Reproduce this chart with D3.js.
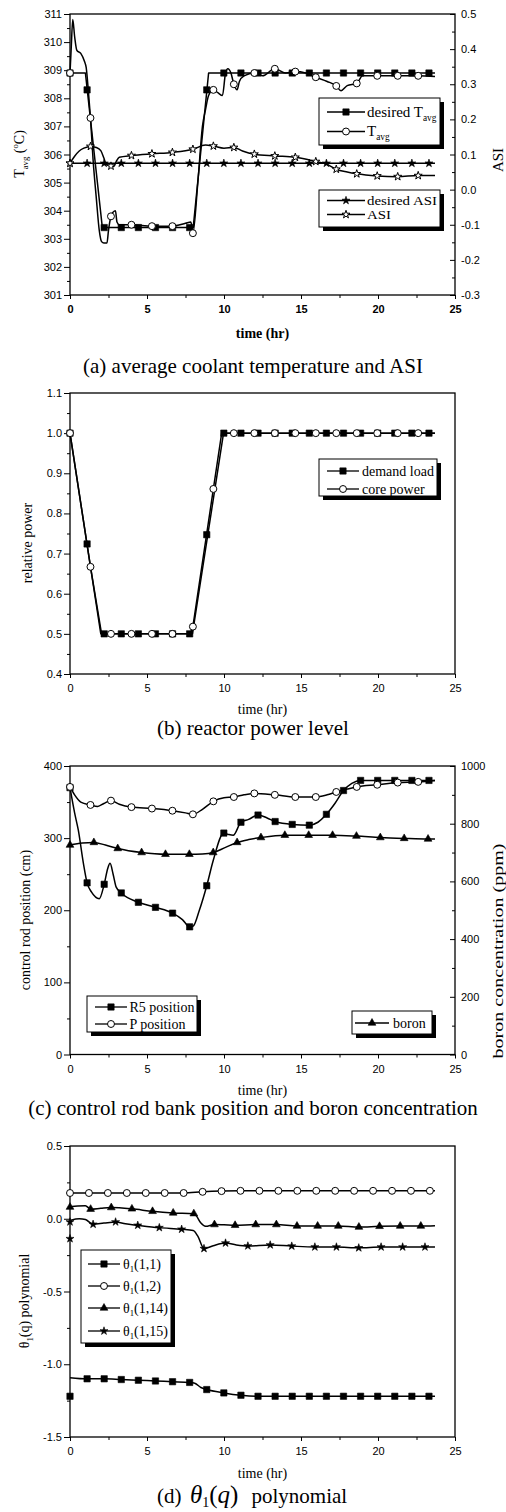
<!DOCTYPE html>
<html><head><meta charset="utf-8">
<script src="https://cdn.jsdelivr.net/npm/d3@7"></script>
<style>body{margin:0;background:#fff}svg{display:block}</style>
</head><body>
<svg id="c" width="506" height="1512"></svg>
<script>
// ---------------- DATA ----------------
const xTickValues = [0,5,10,15,20,25];
const xMinorValues = [2.5,7.5,12.5,17.5,22.5];

// marker time grids
const tSquare = [0,1.11,2.22,3.33,4.44,5.55,6.66,7.77,8.88,9.99,11.1,12.21,13.32,14.43,15.54,16.65,17.76,18.87,19.98,21.09,22.2,23.31];
const tCircle = [0,1.33,2.66,3.99,5.32,6.65,7.98,9.31,10.64,11.97,13.3,14.63,15.96,17.29,18.62,19.95,21.28,22.61];
const tTriangle = [0,1.55,3.1,4.65,6.2,7.75,9.3,10.85,12.4,13.95,15.5,17.05,18.6,20.15,21.7,23.25];
const tCircleD = [0,1.23,2.46,3.69,4.92,6.15,7.38,8.61,9.84,11.07,12.3,13.53,14.76,15.99,17.22,18.45,19.68,20.91,22.14,23.37];
const tTriangleD = [0,1.34,2.68,4.02,5.36,6.7,8.04,9.38,10.72,12.06,13.4,14.74,16.08,17.42,18.76,20.1,21.44,22.78];
const tStarD = [0,1.5,2.96,4.4,5.8,7.25,8.7,10.1,11.55,13.0,14.4,15.9,17.3,18.75,20.2,21.6,23.05];

// (a) average coolant temperature and ASI
const tempTicks = [301,302,303,304,305,306,307,308,309,310,311];
const asiTicks = [-0.3,-0.2,-0.1,0,0.1,0.2,0.3,0.4,0.5];
const desiredTavgLine = [[0,308.9],[1.0,308.9],[2.1,303.4],[8.0,303.4],[9.0,308.9],[23.7,308.9]];
const desiredTavgMarks = [308.9,308.3,303.4,303.4,303.4,303.4,303.4,303.4,308.3,308.9,308.9,308.9,308.9,308.9,308.9,308.9,308.9,308.9,308.9,308.9,308.9,308.9];
const tavgLine = [[0,308.9],[0.08,309.8],[0.18,310.8],[0.3,310.2],[0.45,309.7],[0.7,309.6],[0.95,309.3],[1.05,309.1],[1.2,308.2],[1.33,307.3],[1.5,305.8],[1.7,304.5],[1.9,303.3],[2.05,302.9],[2.2,302.85],[2.4,302.85],[2.5,303.3],[2.66,303.8],[2.8,303.95],[2.95,304.0],[3.05,303.6],[3.2,303.5],[3.99,303.5],[5.32,303.45],[6.65,303.45],[7.5,303.55],[7.85,303.6],[7.98,303.2],[8.3,305.0],[8.6,307.0],[8.8,307.6],[9.0,308.1],[9.31,308.3],[9.6,308.2],[9.9,308.1],[10.1,308.9],[10.25,309.05],[10.45,308.9],[10.64,308.5],[10.85,308.3],[11.0,308.6],[11.3,308.8],[11.97,308.9],[12.5,308.8],[13.3,309.05],[14.0,308.9],[14.63,308.95],[15.3,308.9],[15.96,308.75],[16.7,308.6],[17.29,308.44],[17.6,308.27],[18.0,308.45],[18.62,308.53],[19.0,308.8],[19.95,308.8],[21.28,308.8],[22.61,308.8],[23.7,308.78]];
const tavgMarks = [308.9,307.3,303.8,303.5,303.45,303.45,303.2,308.3,308.5,308.9,309.05,308.95,308.75,308.44,308.53,308.8,308.8,308.8];
const desiredAsiLine = [[0,0.075],[23.7,0.075]];
const desiredAsiMarks = [0.075,0.075,0.075,0.075,0.075,0.075,0.075,0.075,0.075,0.075,0.075,0.075,0.075,0.075,0.075,0.075,0.075,0.075,0.075,0.075,0.075,0.075];
const asiLine = [[0,0.075],[0.3,0.095],[0.6,0.11],[0.9,0.118],[1.33,0.123],[1.7,0.12],[2.0,0.111],[2.2,0.09],[2.35,0.072],[2.66,0.067],[2.85,0.066],[3.0,0.08],[3.2,0.092],[3.99,0.097],[5.32,0.102],[6.65,0.106],[7.98,0.115],[8.8,0.127],[9.31,0.124],[10.0,0.118],[10.64,0.12],[11.2,0.11],[11.97,0.101],[13.3,0.096],[14.63,0.092],[15.96,0.08],[16.7,0.072],[17.29,0.058],[18.0,0.05],[18.62,0.045],[19.95,0.039],[21.28,0.037],[22.61,0.04],[23.7,0.04]];
const asiMarks = [0.075,0.123,0.067,0.097,0.102,0.106,0.115,0.124,0.12,0.101,0.096,0.092,0.08,0.058,0.045,0.039,0.037,0.04];

// (b) reactor power level
const powerTicks = [0.4,0.5,0.6,0.7,0.8,0.9,1.0,1.1];
const demandLine = [[0,1.0],[2.0,0.5],[7.95,0.5],[9.97,1.0],[23.7,1.0]];
const demandMarks = [1.0,0.724,0.5,0.5,0.5,0.5,0.5,0.5,0.747,1.0,1.0,1.0,1.0,1.0,1.0,1.0,1.0,1.0,1.0,1.0,1.0,1.0];
const coreLine = [[0,1.0],[1.33,0.667],[2.05,0.5],[7.8,0.5],[7.98,0.518],[9.31,0.861],[9.85,1.0],[23.7,1.0]];
const coreMarks = [1.0,0.667,0.5,0.5,0.5,0.5,0.518,0.861,1.0,1.0,1.0,1.0,1.0,1.0,1.0,1.0,1.0,1.0];

// (c) control rod bank position and boron concentration
const rodTicks = [0,100,200,300,400];
const boronTicks = [0,200,400,600,800,1000];
const r5Line = [[0,370],[0.3,335],[0.54,311],[0.87,265],[1.11,238],[1.4,225],[1.9,216],[2.22,236],[2.45,258],[2.6,265],[2.8,250],[3.0,232],[3.33,224],[4.44,211],[5.55,204],[6.66,196],[7.3,187],[7.77,177],[8.0,178],[8.4,200],[8.88,234],[9.3,269],[9.99,307],[10.3,305],[10.6,304],[11.1,322],[11.6,326],[12.21,332],[12.8,328],[13.32,323],[14.43,319],[15.54,318],[16.1,322],[16.65,333],[17.2,348],[17.76,366],[18.3,376],[18.87,380],[23.7,380]];
const r5Marks = [370,238,236,224,211,204,196,177,234,307,322,332,323,319,318,333,366,380,380,380,380,380];
const pLine = [[0,371],[0.3,360],[0.7,350],[1.33,346],[1.8,344],[2.2,348],[2.66,352],[3.2,347],[3.99,343],[5.32,341],[6.65,338],[7.5,335],[7.98,333],[8.6,340],[9.31,351],[10.0,356],[10.64,357],[11.3,360],[11.97,362],[13.3,360],[14.63,357],[15.96,357],[16.7,360],[17.29,364],[18.0,368],[18.62,371],[19.95,374],[21.28,377],[22.61,378],[23.7,380]];
const pMarks = [371,346,352,343,341,338,333,351,357,362,360,357,357,364,371,374,377,378];
const boronLine = [[0,726],[0.8,733],[1.55,735],[2.3,726],[3.1,714],[4.65,700],[6.2,694],[7.75,694],[8.6,695],[9.3,700],[10.1,718],[10.85,735],[11.6,745],[12.4,752],[13.95,760],[15.5,760],[17.05,760],[18.6,757],[20.15,752],[21.7,749],[23.25,747],[23.7,747]];
const boronMarks = [726,735,714,700,694,694,700,735,752,760,760,760,757,752,749,747];

// (d) theta_1(q) polynomial
const thetaTicks = [-1.5,-1.0,-0.5,0.0,0.5];
const th11Line = [[0,-1.092],[1.11,-1.10],[2.22,-1.10],[3.33,-1.105],[4.44,-1.11],[5.55,-1.115],[6.66,-1.12],[7.77,-1.125],[8.1,-1.13],[8.5,-1.16],[8.88,-1.174],[9.99,-1.197],[11.1,-1.213],[12.21,-1.22],[23.7,-1.22]];
const th11Marks = [-1.22,-1.10,-1.10,-1.105,-1.11,-1.115,-1.12,-1.125,-1.174,-1.197,-1.213,-1.22,-1.22,-1.22,-1.22,-1.22,-1.22,-1.22,-1.22,-1.22,-1.22,-1.22];
const th12Line = [[0,0.177],[7.38,0.177],[8.61,0.185],[9.84,0.19],[11.07,0.192],[23.7,0.193]];
const th12Marks = [0.177,0.177,0.177,0.177,0.177,0.177,0.177,0.185,0.19,0.192,0.192,0.192,0.192,0.192,0.192,0.192,0.192,0.192,0.192,0.192];
const th114Line = [[0,0.082],[0.5,0.088],[1.0,0.09],[1.34,0.066],[2.0,0.072],[2.68,0.077],[4.02,0.068],[5.36,0.051],[6.7,0.04],[8.0,0.035],[8.2,0.02],[8.5,-0.03],[8.8,-0.052],[9.38,-0.04],[10.0,-0.042],[10.72,-0.045],[12.06,-0.04],[13.4,-0.04],[14.74,-0.05],[16.08,-0.05],[17.42,-0.05],[18.76,-0.057],[20.1,-0.052],[21.44,-0.05],[22.78,-0.05],[23.7,-0.048]];
const th114Marks = [0.08,0.066,0.077,0.068,0.051,0.04,0.035,-0.04,-0.045,-0.04,-0.04,-0.05,-0.05,-0.05,-0.057,-0.052,-0.05,-0.05];
const th115Line = [[0.05,-0.01],[0.6,0.0],[1.0,-0.005],[1.5,-0.038],[2.2,-0.03],[2.96,-0.022],[3.6,-0.035],[4.4,-0.045],[5.8,-0.061],[7.25,-0.072],[8.0,-0.08],[8.3,-0.12],[8.7,-0.205],[9.3,-0.185],[10.1,-0.167],[10.8,-0.18],[11.55,-0.187],[13.0,-0.18],[14.4,-0.188],[15.9,-0.194],[17.3,-0.194],[18.75,-0.2],[20.2,-0.194],[21.6,-0.194],[23.05,-0.194],[23.7,-0.195]];
const th115Marks = [-0.022,-0.038,-0.022,-0.045,-0.061,-0.072,-0.205,-0.167,-0.187,-0.18,-0.188,-0.194,-0.194,-0.2,-0.194,-0.194,-0.194];
const th115Start = [[0,-0.137]];

// ---------------- DRAWING ----------------
const svg = d3.select("#c");
const SERIF = "'Liberation Serif','Times New Roman',Times,serif";
const SANS = "'Liberation Sans',Arial,Helvetica,sans-serif";
const X0 = 70, X1 = 455;
const x = d3.scaleLinear().domain([0,25]).range([X0,X1]);

function minors(ticks){ const m=[]; for(let i=0;i<ticks.length-1;i++) m.push((ticks[i]+ticks[i+1])/2); return m; }
function styleAxis(g, bold){
  g.select(".domain").remove();
  g.attr("font-family",SANS).attr("font-size",11);
  g.selectAll("text").attr("fill","#000").attr("font-weight",bold?"bold":"normal");
  g.selectAll("line").attr("stroke","#000").attr("stroke-width",1);
}
function panel(o){
  const yL = d3.scaleLinear().domain(o.yL).range([o.bottom,o.top]);
  const yR = o.yR ? d3.scaleLinear().domain(o.yR).range([o.bottom,o.top]) : null;
  const g = svg.append("g");
  const gl = g.append("g").attr("transform",`translate(${X0},0)`);
  gl.append("g").call(d3.axisLeft(yL).tickValues(minors(o.ticksL)).tickSize(3).tickFormat("")).call(styleAxis);
  gl.append("g").call(d3.axisLeft(yL).tickValues(o.ticksL).tickSize(6).tickPadding(2).tickFormat(o.fmtL)).call(styleAxis);
  if (yR){
    const gr = g.append("g").attr("transform",`translate(${X1},0)`);
    gr.append("g").call(d3.axisRight(yR).tickValues(minors(o.ticksR)).tickSize(-3).tickFormat("")).call(styleAxis);
    gr.append("g").call(d3.axisRight(yR).tickValues(o.ticksR).tickSize(-5).tickPadding(6).tickFormat(o.fmtR)).call(styleAxis);
  }
  const gb = g.append("g").attr("transform",`translate(0,${o.bottom})`);
  gb.append("g").call(d3.axisBottom(x).tickValues(xMinorValues).tickSize(3).tickFormat("")).call(styleAxis);
  gb.append("g").call(d3.axisBottom(x).tickValues(xTickValues).tickSize(4).tickPadding(6.5).tickFormat(d3.format("d"))).call(a=>styleAxis(a,o.boldX));
  g.append("rect").attr("x",X0).attr("y",o.top).attr("width",X1-X0).attr("height",o.bottom-o.top)
    .attr("fill","none").attr("stroke","#000").attr("stroke-width",1.3);
  const data = g.append("g");
  return {yL,yR,g:data};
}
const smooth = d3.curveMonotoneX;
function line(g, pts, y, curve){
  g.append("path").attr("d", d3.line().x(d=>x(d[0])).y(d=>y(d[1])).curve(curve||smooth)(pts))
    .attr("fill","none").attr("stroke","#000").attr("stroke-width",1.5).attr("stroke-linejoin","round");
}
const SYM = {
  sq: {t:d3.symbolSquare, s:40, fill:"#000"},
  ci: {t:d3.symbolCircle, s:38, fill:"#fff"},
  tri:{t:d3.symbolTriangle, s:26, fill:"#000"},
  st: {t:d3.symbolStar, s:20, fill:"#000"},
  ost:{t:d3.symbolStar, s:20, fill:"#fff"}
};
function symbolAt(g, type, px, py){
  const s = SYM[type];
  g.append("path").attr("d", d3.symbol(s.t, s.s)()).attr("transform",`translate(${px},${py})`)
    .attr("fill", s.fill).attr("stroke","#000").attr("stroke-width", s.fill==="#fff"?1:0.6);
}
function marks(g, ts, vs, y, type){
  ts.forEach((t,i)=>{ if (vs[i]!==undefined) symbolAt(g, type, x(t), y(vs[i])); });
}
function richText(parent, parts, size){
  parts.forEach(p=>{
    const ts = parent.append("tspan").text(p.t);
    if (p.sub){ ts.attr("font-size", size*0.62).attr("dy", size*0.25); }
    if (p.sup){ ts.attr("font-size", size*0.62).attr("dy", -size*0.4); }
    if (p.back) ts.attr("dy", p.back*size);
    if (p.it) ts.attr("font-style","italic");
  });
}
function legend(o){
  const g = svg.append("g");
  g.append("rect").attr("x",o.x+4).attr("y",o.y+4).attr("width",o.w).attr("height",o.h).attr("fill","#000");
  g.append("rect").attr("x",o.x).attr("y",o.y).attr("width",o.w).attr("height",o.h).attr("fill","#fff").attr("stroke","#000").attr("stroke-width",1);
  o.items.forEach(it=>{
    g.append("line").attr("x1",o.l1).attr("x2",o.l2).attr("y1",it.y).attr("y2",it.y).attr("stroke","#000").attr("stroke-width",1.3);
    symbolAt(g, it.type, (o.l1+o.l2)/2, it.y);
    const t = g.append("text").attr("x",o.tx).attr("y",it.y).attr("dy","0.33em")
      .attr("font-family",SERIF).attr("font-size",o.fs).attr("fill","#000");
    if (it.len) t.attr("textLength",it.len).attr("lengthAdjust","spacingAndGlyphs");
    richText(t, it.parts, o.fs);
  });
}
function vLabel(px, py, parts, size, opts){
  const t = svg.append("text").attr("transform",`translate(${px},${py}) rotate(-90)`).attr("text-anchor","middle")
    .attr("font-family",SERIF).attr("font-size",size).attr("fill","#000");
  if (opts && opts.len) t.attr("textLength",opts.len).attr("lengthAdjust","spacingAndGlyphs");
  richText(t, parts, size);
}
function hText(px, py, str, size, bold){
  svg.append("text").attr("x",px).attr("y",py).attr("text-anchor","middle").attr("font-family",SERIF)
    .attr("font-size",size).attr("font-weight",bold?"bold":"normal").attr("fill","#000").text(str);
}
const f1 = d=>d.toFixed(1);

// ---- Panel (a)
const A = panel({top:14,bottom:295,yL:[301,311],ticksL:tempTicks,fmtL:d3.format("d"),
  yR:[-0.3,0.5],ticksR:asiTicks,fmtR:f1,boldX:true});
line(A.g, desiredTavgLine, A.yL, d3.curveLinear);
line(A.g, tavgLine, A.yL);
line(A.g, desiredAsiLine, A.yR, d3.curveLinear);
line(A.g, asiLine, A.yR);
marks(A.g, tSquare, desiredAsiMarks, A.yR, "st");
marks(A.g, tCircle, asiMarks, A.yR, "ost");
marks(A.g, tSquare, desiredTavgMarks, A.yL, "sq");
marks(A.g, tCircle, tavgMarks, A.yL, "ci");
vLabel(24,154,[{t:"T"},{t:"avg",sub:true},{t:" (",back:-0.25},{t:"o",sup:true},{t:"C)",back:0.4}],14);
vLabel(503,160,[{t:"ASI"}],15);
hText(262.5,338,"time (hr)",14,true);
hText(253,373,"(a) average coolant temperature and ASI",21);
legend({x:319,y:98,w:121,h:47,l1:327,l2:365,tx:367,fs:15,items:[
  {y:112,type:"sq",parts:[{t:"desired T"},{t:"avg",sub:true}]},
  {y:131.5,type:"ci",parts:[{t:"T"},{t:"avg",sub:true}]}]});
legend({x:319,y:190,w:121,h:37,l1:327,l2:365,tx:367,fs:12.5,items:[
  {y:200.5,type:"st",parts:[{t:"desired ASI"}],len:70},
  {y:214.5,type:"ost",parts:[{t:"ASI"}],len:24}]});

// ---- Panel (b)
const B = panel({top:393,bottom:674,yL:[0.4,1.1],ticksL:powerTicks,fmtL:f1});
line(B.g, demandLine, B.yL, d3.curveLinear);
line(B.g, coreLine, B.yL, d3.curveLinear);
marks(B.g, tSquare, demandMarks, B.yL, "sq");
marks(B.g, tCircle, coreMarks, B.yL, "ci");
vLabel(32,543,[{t:"relative power"}],14);
hText(262.5,714,"time (hr)",14);
hText(253,735,"(b) reactor power level",21);
legend({x:319,y:459,w:118,h:37,l1:327,l2:359,tx:362,fs:14,items:[
  {y:471,type:"sq",parts:[{t:"demand load"}]},
  {y:489,type:"ci",parts:[{t:"core power"}]}]});

// ---- Panel (c)
const C = panel({top:766,bottom:1054.5,yL:[0,400],ticksL:rodTicks,fmtL:d3.format("d"),
  yR:[0,1000],ticksR:boronTicks,fmtR:d3.format("d")});
line(C.g, r5Line, C.yL);
line(C.g, pLine, C.yL);
line(C.g, boronLine, C.yR);
marks(C.g, tSquare, r5Marks, C.yL, "sq");
marks(C.g, tCircle, pMarks, C.yL, "ci");
marks(C.g, tTriangle, boronMarks, C.yR, "tri");
vLabel(30,920,[{t:"control rod position (cm)"}],14);
vLabel(503,951,[{t:"boron concentration (ppm)"}],14,{len:215});
hText(262.5,1095,"time (hr)",14);
hText(253,1115,"(c) control rod bank position and boron concentration",21);
legend({x:87,y:996,w:110,h:36,l1:95,l2:127,tx:129.5,fs:14,items:[
  {y:1007,type:"sq",parts:[{t:"R5 position"}]},
  {y:1024,type:"ci",parts:[{t:"P position"}]}]});
legend({x:352,y:1011,w:80,h:23,l1:355,l2:389,tx:393,fs:14,items:[
  {y:1023,type:"tri",parts:[{t:"boron"}]}]});

// ---- Panel (d)
const D = panel({top:1146,bottom:1437,yL:[-1.5,0.5],ticksL:thetaTicks,fmtL:f1});
line(D.g, th11Line, D.yL);
line(D.g, th12Line, D.yL);
line(D.g, th114Line, D.yL);
line(D.g, th115Line, D.yL);
marks(D.g, tSquare, th11Marks, D.yL, "sq");
marks(D.g, tCircleD, th12Marks, D.yL, "ci");
marks(D.g, tTriangleD, th114Marks, D.yL, "tri");
marks(D.g, tStarD, th115Marks, D.yL, "st");
marks(D.g, th115Start.map(d=>d[0]), th115Start.map(d=>d[1]), D.yL, "st");
vLabel(29,1301,[{t:"θ"},{t:"1",sub:true},{t:"(q) polynomial",back:-0.25}],14);
hText(262.5,1478,"time (hr)",14);
legend({x:81,y:1250,w:90,h:93,l1:88,l2:120,tx:123,fs:14,items:[
  {y:1264,type:"sq",parts:[{t:"θ"},{t:"1",sub:true},{t:"(1,1)",back:-0.25}]},
  {y:1286,type:"ci",parts:[{t:"θ"},{t:"1",sub:true},{t:"(1,2)",back:-0.25}]},
  {y:1308,type:"tri",parts:[{t:"θ"},{t:"1",sub:true},{t:"(1,14)",back:-0.25}]},
  {y:1331,type:"st",parts:[{t:"θ"},{t:"1",sub:true},{t:"(1,15)",back:-0.25}]}]});
// caption (d)
{
  const t = svg.append("text").attr("y",1503).attr("font-family",SERIF).attr("fill","#000").attr("font-size",21);
  t.append("tspan").attr("x",157).text("(d)");
  t.append("tspan").attr("x",190).attr("font-size",25).attr("font-style","italic").text("θ");
  t.append("tspan").attr("font-size",14).attr("dy",4).text("1");
  t.append("tspan").attr("font-size",25).attr("dy",-4).text("(");
  t.append("tspan").attr("font-size",25).attr("font-style","italic").text("q");
  t.append("tspan").attr("font-size",25).text(")");
  t.append("tspan").attr("x",251.5).text("polynomial");
}
</script>
</body></html>
